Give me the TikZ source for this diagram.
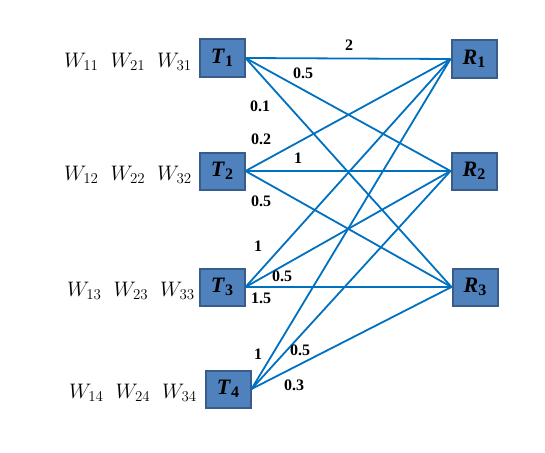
\documentclass[tikz,border=0pt]{standalone}
\usepackage{fix-cm}
\usepackage{fontspec}
\newfontfamily\lsb{Liberation Serif}
\definecolor{boxfill}{HTML}{4F81BD}
\definecolor{boxborder}{HTML}{385D8A}
\definecolor{edgeblue}{HTML}{0070C0}
\DeclareMathSizes{21}{21}{15}{11}
\begin{document}
\begin{tikzpicture}[x=1pt,y=-1pt,
  nodebox/.style={draw=boxborder,fill=boxfill,line width=2pt,minimum width=45pt,minimum height=37pt,inner sep=0pt,
    font=\lsb\bfseries\fontsize{22}{22}\selectfont},
  link/.style={draw=edgeblue,line width=1.8pt},
  wt/.style={font=\lsb\bfseries\fontsize{16}{16}\selectfont,inner sep=0pt},
  wrow/.style={anchor=east,inner sep=0pt,font=\fontsize{21}{21}\selectfont}]
\useasboundingbox (0,0) rectangle (545,452);
\newcommand{\tl}[2]{\textit{#1}\raisebox{-0.3ex}{\fontsize{16}{16}\selectfont #2}}
% transmitters
\node[nodebox] (T1) at (222,58) {\tl{T}{1}};
\node[nodebox] (T2) at (222,171) {\tl{T}{2}};
\node[nodebox] (T3) at (222,287) {\tl{T}{3}};
\node[nodebox] (T4) at (228,389) {\tl{T}{4}};
% receivers
\node[nodebox] (R1) at (474,59) {\tl{R}{1}};
\node[nodebox] (R2) at (474,171) {\tl{R}{2}};
\node[nodebox] (R3) at (475,287) {\tl{R}{3}};
% weight rows
\node[wrow] (w1) at (192,62) {$W_{11}$\hspace{12pt}$W_{21}$\hspace{12pt}$W_{31}$};
\node[wrow] (w2) at (192,175) {$W_{12}$\hspace{12pt}$W_{22}$\hspace{12pt}$W_{32}$};
\node[wrow] (w3) at (195,291) {$W_{13}$\hspace{12pt}$W_{23}$\hspace{12pt}$W_{33}$};
\node[wrow] (w4) at (197,393) {$W_{14}$\hspace{12pt}$W_{24}$\hspace{12pt}$W_{34}$};
% links
\foreach \t in {T1,T2,T3,T4}{
  \foreach \r in {R1,R2,R3}{
    \draw[link] (\t.east) -- (\r.west);
  }
}
% weights
\node[wt] (l1) at (349,45) {2};
\node[wt] (l2) at (303,73) {0.5};
\node[wt] (l3) at (260,106) {0.1};
\node[wt] (l4) at (261,139) {0.2};
\node[wt] (l5) at (298,158) {1};
\node[wt] (l6) at (261,201) {0.5};
\node[wt] (l7) at (258,246) {1};
\node[wt] (l8) at (282,276) {0.5};
\node[wt] (l9) at (261,298) {1.5};
\node[wt] (l10) at (258,354) {1};
\node[wt] (l11) at (300,350) {0.5};
\node[wt] (l12) at (294,385) {0.3};
\end{tikzpicture}
\end{document}
